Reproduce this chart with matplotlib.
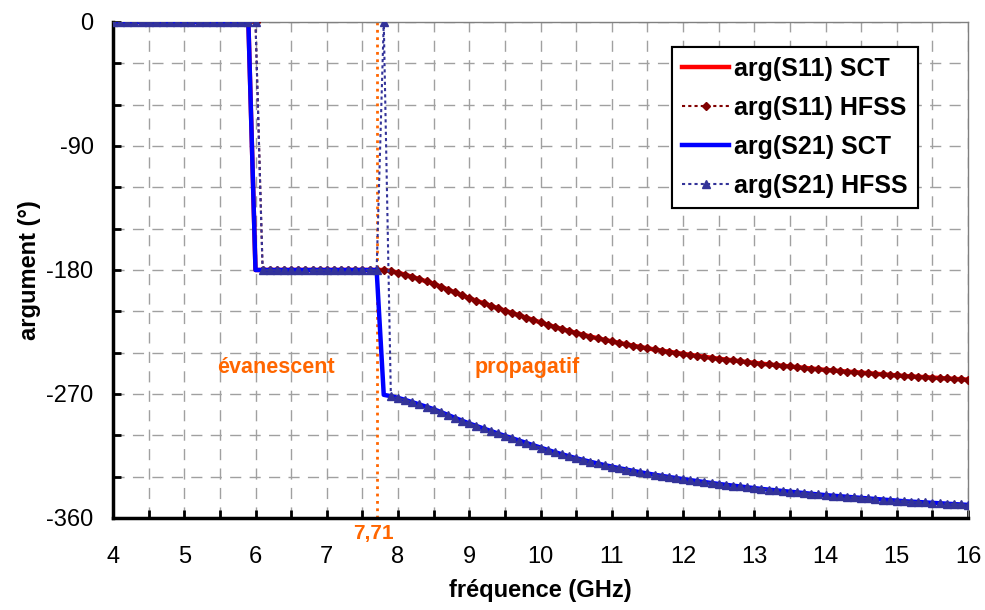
import numpy as np
import matplotlib
matplotlib.use('Agg')
import matplotlib.pyplot as plt
from matplotlib.ticker import MultipleLocator

plt.rcParams['font.family'] = ['Liberation Sans', 'DejaVu Sans']
plt.rcParams['axes.unicode_minus'] = False

# Propagating band, 0.1 GHz step.
freq_prop = np.round(np.arange(7.8, 16.05, 0.1), 1)
s11_prop = [
    -180.0, -180.8, -182.0, -183.4, -185.0, -186.6, -188.3, -190.0, -192.1, -194.2,
    -196.3, -198.4, -200.5, -202.3, -204.1, -205.9, -207.7, -209.5, -211.2, -212.9,
    -214.6, -216.3, -218.0, -219.7, -221.3, -222.8, -224.3, -225.7, -227.0, -228.3,
    -229.5, -230.7, -231.8, -232.9, -233.9, -234.9, -235.9, -236.8, -237.7, -238.5,
    -239.3, -240.1, -240.9, -241.6, -242.3, -243.0, -243.7, -244.4, -245.0, -245.6,
    -246.2, -246.8, -247.4, -248.0, -248.5, -249.0, -249.5, -250.0, -250.5, -251.0,
    -251.5, -252.0, -252.5, -252.9, -253.3, -253.7, -254.1, -254.5, -254.9, -255.3,
    -255.7, -256.1, -256.5, -256.9, -257.2, -257.5, -257.8, -258.1, -258.4, -258.7,
    -259.0, -259.3, -259.6]
s21_prop = [
    -270.6, -271.6, -272.8, -274.3, -275.9, -277.6, -279.3, -281.0, -283.1, -285.2,
    -287.3, -289.4, -291.4, -293.2, -295.0, -296.8, -298.6, -300.4, -302.1, -303.8,
    -305.5, -307.2, -308.9, -310.6, -312.2, -313.7, -315.2, -316.6, -317.9, -319.2,
    -320.4, -321.6, -322.7, -323.8, -324.8, -325.8, -326.8, -327.7, -328.6, -329.4,
    -330.2, -331.0, -331.8, -332.5, -333.2, -333.9, -334.6, -335.3, -335.9, -336.5,
    -337.1, -337.7, -338.3, -338.9, -339.4, -339.9, -340.4, -340.9, -341.4, -341.9,
    -342.4, -342.9, -343.4, -343.8, -344.2, -344.6, -345.0, -345.4, -345.8, -346.2,
    -346.6, -347.0, -347.4, -347.8, -348.1, -348.4, -348.7, -349.0, -349.3, -349.6,
    -349.9, -350.2, -350.5]

# Evanescent band for SCT (corner points) and HFSS (0.1 GHz step).
freq_sct_ev = [4.0, 5.9, 6.0, 7.7]
sct_ev = [0, 0, -180, -180]
freq_hfss_ev = np.round(np.arange(4.0, 7.75, 0.1), 1)
hfss_ev = [0] * 21 + [-180] * 17
s21_hfss_wrap = 0  # HFSS S21 value at 7.8 GHz (wrapped phase)

f_cut = 7.71

# Build the series.
f_sct = np.concatenate([freq_sct_ev, freq_prop])
s11_sct = np.concatenate([sct_ev, s11_prop])
s21_sct = np.concatenate([sct_ev, s21_prop])
f_hfss = np.concatenate([freq_hfss_ev, freq_prop])
s11_hfss = np.concatenate([hfss_ev, s11_prop])
s21_hfss = np.concatenate([hfss_ev, [s21_hfss_wrap], s21_prop[1:]])

fig = plt.figure(figsize=(9.85, 6.1), dpi=100)
ax = fig.add_axes([113 / 985, 1 - 518 / 610, 855 / 985, 496 / 610])

ax.plot(f_sct, s11_sct, color='#FF0000', lw=3.2, label='arg(S11) SCT', zorder=3)
ax.plot(f_hfss, s11_hfss, color='#800000', lw=1.5, ls=(0, (1.5, 1.5)),
        marker='D', ms=4.5, label='arg(S11) HFSS', zorder=4)
ax.plot(f_sct, s21_sct, color='#0000FF', lw=3.2, label='arg(S21) SCT', zorder=5)
ax.plot(f_hfss, s21_hfss, color='#333399', lw=1.5, ls=(0, (1.5, 1.5)),
        marker='^', ms=5.5, label='arg(S21) HFSS', zorder=6)

ax.axvline(f_cut, color='#FF6600', lw=2, ls=':', zorder=2)

ax.set_xlim(4, 16)
ax.set_ylim(-360, 0)
ax.xaxis.set_major_locator(MultipleLocator(1))
ax.xaxis.set_minor_locator(MultipleLocator(0.5))
ax.yaxis.set_major_locator(MultipleLocator(90))
ax.yaxis.set_minor_locator(MultipleLocator(30))
ax.tick_params(which='both', direction='in', width=2, length=6, labelsize=17,
               top=False, right=False)
ax.tick_params(axis='x', which='major', pad=20)
ax.tick_params(axis='y', which='major', pad=14)

ax.grid(which='both', color='#A0A0A0', lw=1, ls=(0, (8, 6)))
ax.set_axisbelow(True)

for s in ['left', 'bottom']:
    ax.spines[s].set_linewidth(2.5)
    ax.spines[s].set_color('black')
for s in ['top', 'right']:
    ax.spines[s].set_linewidth(1)
    ax.spines[s].set_color('#808080')

ax.set_xlabel('fréquence (GHz)', fontsize=17, fontweight='bold', labelpad=8)
ax.set_ylabel('argument (°)', fontsize=17, fontweight='bold', labelpad=4)

ax.text(6.28, -251, 'évanescent', color='#FF6600', fontsize=15.5,
        fontweight='bold', ha='center', va='center')
ax.text(9.82, -251, 'propagatif', color='#FF6600', fontsize=15.5,
        fontweight='bold', ha='center', va='center')
ax.text(7.65, -371, '7,71', color='#FF6600', fontsize=15,
        fontweight='bold', ha='center', va='center', clip_on=False)

leg = ax.legend(loc='upper right', bbox_to_anchor=(0.9415, 0.9496),
                borderaxespad=0, fancybox=False, framealpha=1,
                edgecolor='black', prop={'size': 18, 'weight': 'bold'},
                handlelength=1.9, handletextpad=0.2, labelspacing=0.6,
                numpoints=1, borderpad=0.4,
                shadow={'color': 'black', 'alpha': 1, 'ox': 0.03, 'oy': -0.03})
leg.get_frame().set_linewidth(1.5)

fig.savefig('out.png', dpi=100)
